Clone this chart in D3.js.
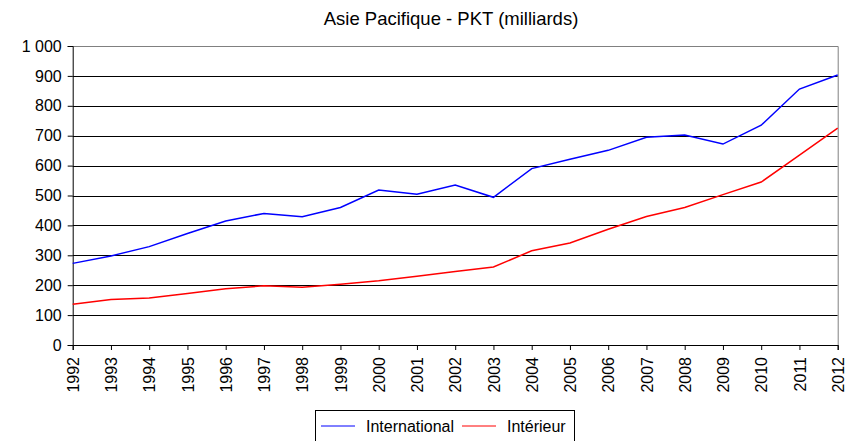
<!DOCTYPE html>
<html>
<head>
<meta charset="utf-8">
<script src="https://cdn.jsdelivr.net/npm/d3@7"></script>
<style>
  body { margin: 0; background: #fff; }
  text { font-family: "Liberation Sans", Arial, sans-serif; }
</style>
</head>
<body>
<svg id="chart" width="845" height="441"></svg>
<script>
var annees = ["1992","1993","1994","1995","1996","1997","1998","1999","2000","2001","2002",
              "2003","2004","2005","2006","2007","2008","2009","2010","2011","2012"];
var international = [273, 298, 329, 373, 415, 440, 429, 460, 518, 504, 535,
                     494, 590, 621, 651, 695, 702, 672, 735, 856, 903];
var interieur = [136, 152, 157, 172, 188, 198, 193, 203, 215, 230, 246,
                 261, 315, 341, 387, 430, 460, 503, 545, 635, 725];
var yTicks = [0, 100, 200, 300, 400, 500, 600, 700, 800, 900, 1000];
var series = [
    {nom: "International", valeurs: international, couleur: "#0000ff"},
    {nom: "Intérieur", valeurs: interieur, couleur: "#ff0000"}
];

var svg = d3.select("#chart");
var pLeft = 72.7, pRight = 837.7, pTop = 46, pBottom = 345;

var x = d3.scalePoint().domain(annees).range([pLeft, pRight]);
var y = d3.scaleLinear().domain([0, 1000]).range([pBottom, pTop]);

// titre
svg.append("text")
    .attr("x", 451)
    .attr("y", 25)
    .attr("text-anchor", "middle")
    .style("font-size", "18.5px")
    .text("Asie Pacifique - PKT (milliards)");

// grille
svg.append("g").selectAll("line")
    .data(yTicks.slice(1, -1))
    .enter().append("line")
    .attr("x1", pLeft).attr("x2", pRight)
    .attr("y1", function(d){ return Math.round(y(d)) + 0.5; })
    .attr("y2", function(d){ return Math.round(y(d)) + 0.5; })
    .attr("stroke", "#000")
    .attr("stroke-width", 1);

// cadre haut + droite
svg.append("path")
    .attr("d", "M" + pLeft + "," + (pTop + 0.5) + "H" + (pRight + 0.5) + "V" + pBottom)
    .attr("fill", "none")
    .attr("stroke", "#808080");

// axe y
var yAxis = d3.axisLeft(y)
    .tickValues(yTicks)
    .tickSize(5)
    .tickPadding(6)
    .tickFormat(function(d){ return d3.format(",")(d).replace(",", " "); });
var gy = svg.append("g")
    .attr("transform", "translate(" + pLeft + ",0)")
    .call(yAxis);
gy.selectAll("text").style("font-size", "16px").attr("fill", "#000");
gy.selectAll("line, path").attr("stroke", "#000");

// axe x
var xAxis = d3.axisBottom(x).tickSize(5).tickPadding(5);
var gx = svg.append("g")
    .attr("transform", "translate(0," + pBottom + ")")
    .call(xAxis);
gx.selectAll("text")
    .style("font-size", "16px")
    .attr("fill", "#000")
    .attr("text-anchor", "end")
    .attr("transform", "rotate(-90)")
    .attr("x", -12)
    .attr("y", 0)
    .attr("dy", "0.35em");
gx.selectAll("line, path").attr("stroke", "#000");

// courbes
var ligne = d3.line()
    .x(function(d, i){ return x(annees[i]); })
    .y(function(d){ return y(d); });

svg.append("g").selectAll("path")
    .data(series)
    .enter().append("path")
    .attr("d", function(s){ return ligne(s.valeurs); })
    .attr("fill", "none")
    .attr("stroke", function(s){ return s.couleur; })
    .attr("stroke-width", 1.5);

// légende
var leg = svg.append("g");
leg.append("rect")
    .attr("x", 315.5).attr("y", 410.5)
    .attr("width", 259).attr("height", 40)
    .attr("fill", "#fff")
    .attr("stroke", "#000");
var posLeg = [321, 462];
series.forEach(function(s, i){
    leg.append("line")
        .attr("x1", posLeg[i]).attr("x2", posLeg[i] + 34)
        .attr("y1", 426).attr("y2", 426)
        .attr("stroke", s.couleur)
        .attr("stroke-width", 1);
    leg.append("text")
        .attr("x", posLeg[i] + 45)
        .attr("y", 431.5)
        .style("font-size", "16px")
        .text(s.nom);
});
</script>
</body>
</html>
